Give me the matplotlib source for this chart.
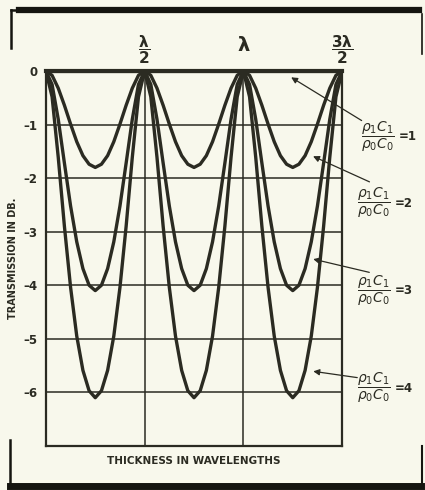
import matplotlib.pyplot as plt
from matplotlib.lines import Line2D

# thickness in wavelengths, sampled every 1/32 wavelength
thickness = [k / 32 for k in range(49)]

# transmission in dB, one half-wave at a time
ratio_1 = [0.0] * 49
ratio_2 = [0, -0.08, -0.32, -0.64, -0.99, -1.32, -1.58, -1.74, -1.80, -1.74, -1.58, -1.32, -0.99, -0.64, -0.32, -0.08,
           0, -0.08, -0.32, -0.64, -0.99, -1.32, -1.58, -1.74, -1.80, -1.74, -1.58, -1.32, -0.99, -0.64, -0.32, -0.08,
           0, -0.08, -0.32, -0.64, -0.99, -1.32, -1.58, -1.74, -1.80, -1.74, -1.58, -1.32, -0.99, -0.64, -0.32, -0.08, 0]
ratio_3 = [0, -0.25, -0.90, -1.72, -2.52, -3.19, -3.69, -4.00, -4.10, -4.00, -3.69, -3.19, -2.52, -1.72, -0.90, -0.25,
           0, -0.25, -0.90, -1.72, -2.52, -3.19, -3.69, -4.00, -4.10, -4.00, -3.69, -3.19, -2.52, -1.72, -0.90, -0.25,
           0, -0.25, -0.90, -1.72, -2.52, -3.19, -3.69, -4.00, -4.10, -4.00, -3.69, -3.19, -2.52, -1.72, -0.90, -0.25, 0]
ratio_4 = [0, -0.48, -1.61, -2.90, -4.04, -4.95, -5.59, -5.97, -6.10, -5.97, -5.59, -4.95, -4.04, -2.90, -1.61, -0.48,
           0, -0.48, -1.61, -2.90, -4.04, -4.95, -5.59, -5.97, -6.10, -5.97, -5.59, -4.95, -4.04, -2.90, -1.61, -0.48,
           0, -0.48, -1.61, -2.90, -4.04, -4.95, -5.59, -5.97, -6.10, -5.97, -5.59, -4.95, -4.04, -2.90, -1.61, -0.48, 0]

y_ticks = [0, -1, -2, -3, -4, -5, -6]
x_marks = [0.5, 1.0, 1.5]
x_mark_labels = [r'$\mathbf{\dfrac{\lambda}{2}}$', r'$\mathbf{\lambda}$', r'$\mathbf{\dfrac{3\lambda}{2}}$']
ratio_names = ['1', '2', '3', '4']

ink = '#2b2b22'
paper = '#f8f8ec'

fig = plt.figure(figsize=(4.25, 4.9), dpi=100, facecolor=paper)
ax = fig.add_axes([0.108, 0.09, 0.697, 0.765], facecolor=paper)

for y in y_ticks[1:]:
    ax.axhline(y, color=ink, lw=1.1, zorder=1)
for x in x_marks[:-1]:
    ax.axvline(x, color=ink, lw=1.1, zorder=1)

ax.plot(thickness, ratio_1, color=ink, lw=3.0, zorder=3)
for r in (ratio_2, ratio_3, ratio_4):
    ax.plot(thickness, r, color=ink, lw=2.4, zorder=3, solid_joinstyle='round')

ax.set_xlim(0, 1.5)
ax.set_ylim(-7, 0)
for s in ax.spines.values():
    s.set_color(ink)
    s.set_linewidth(1.6)
ax.spines['top'].set_linewidth(3.0)
ax.set_xticks([])
ax.set_yticks(y_ticks)
ax.set_yticklabels(['0'] + ['\u2013%d' % -v for v in y_ticks[1:]], fontsize=8.5, fontweight='bold', color=ink)
ax.tick_params(axis='y', length=0, pad=6)

for x, lab in zip(x_marks, x_mark_labels):
    if 'frac' in lab:
        ax.text(x, 0.1, lab, ha='center', va='bottom', fontsize=11, color=ink)
    else:
        ax.text(x, 0.3, lab, ha='center', va='bottom', fontsize=14, color=ink)

ax.set_ylabel('TRANSMISSION IN DB.', fontsize=7, fontweight='bold', color=ink, labelpad=4)
ax.set_xlabel('THICKNESS IN WAVELENGTHS', fontsize=7.5, fontweight='bold', color=ink, labelpad=7)

# labels with arrows pointing at each curve (tips in data units, texts in figure pixels)
tips = [(1.23, -0.09), (1.34, -1.57), (1.34, -3.5), (1.34, -5.6)]
text_pos = [(378, 137), (374, 203), (374, 291), (374, 388)]
tails = [(364, 122), (372, 183), (372, 273), (360, 378)]
for name, tip, tp, tail in zip(ratio_names, tips, text_pos, tails):
    fx, fy = tp[0] / 425, 1 - tp[1] / 490
    fig.text(fx, fy, r'$\dfrac{\rho_1 C_1}{\rho_0 C_0}$', ha='center', va='center',
             fontsize=10, color=ink)
    fig.text(fx + 0.05, fy, '=' + name, ha='left', va='center',
             fontsize=8.5, color=ink, fontweight='bold')
    ax.annotate('', xy=tip, xycoords='data',
                xytext=(tail[0] / 425, 1 - tail[1] / 490), textcoords='figure fraction',
                arrowprops=dict(arrowstyle='-|>', color=ink, lw=0.9, mutation_scale=9))

# page frame marks from the scan
def frame(xs, ys, lw):
    fig.add_artist(Line2D([x / 425 for x in xs], [1 - y / 490 for y in ys], color='#151510', lw=lw))

frame([19, 419], [10, 10], 4.5)
frame([11, 11], [10, 48], 1.8)
frame([11, 19], [10, 10], 1.8)
frame([10, 10], [440, 484], 1.8)
frame([10, 421], [486, 486], 5)
frame([422, 422], [446, 484], 1.5)
frame([422, 422], [14, 54], 1.2)

fig.savefig('out.png', dpi=100, facecolor=paper)
